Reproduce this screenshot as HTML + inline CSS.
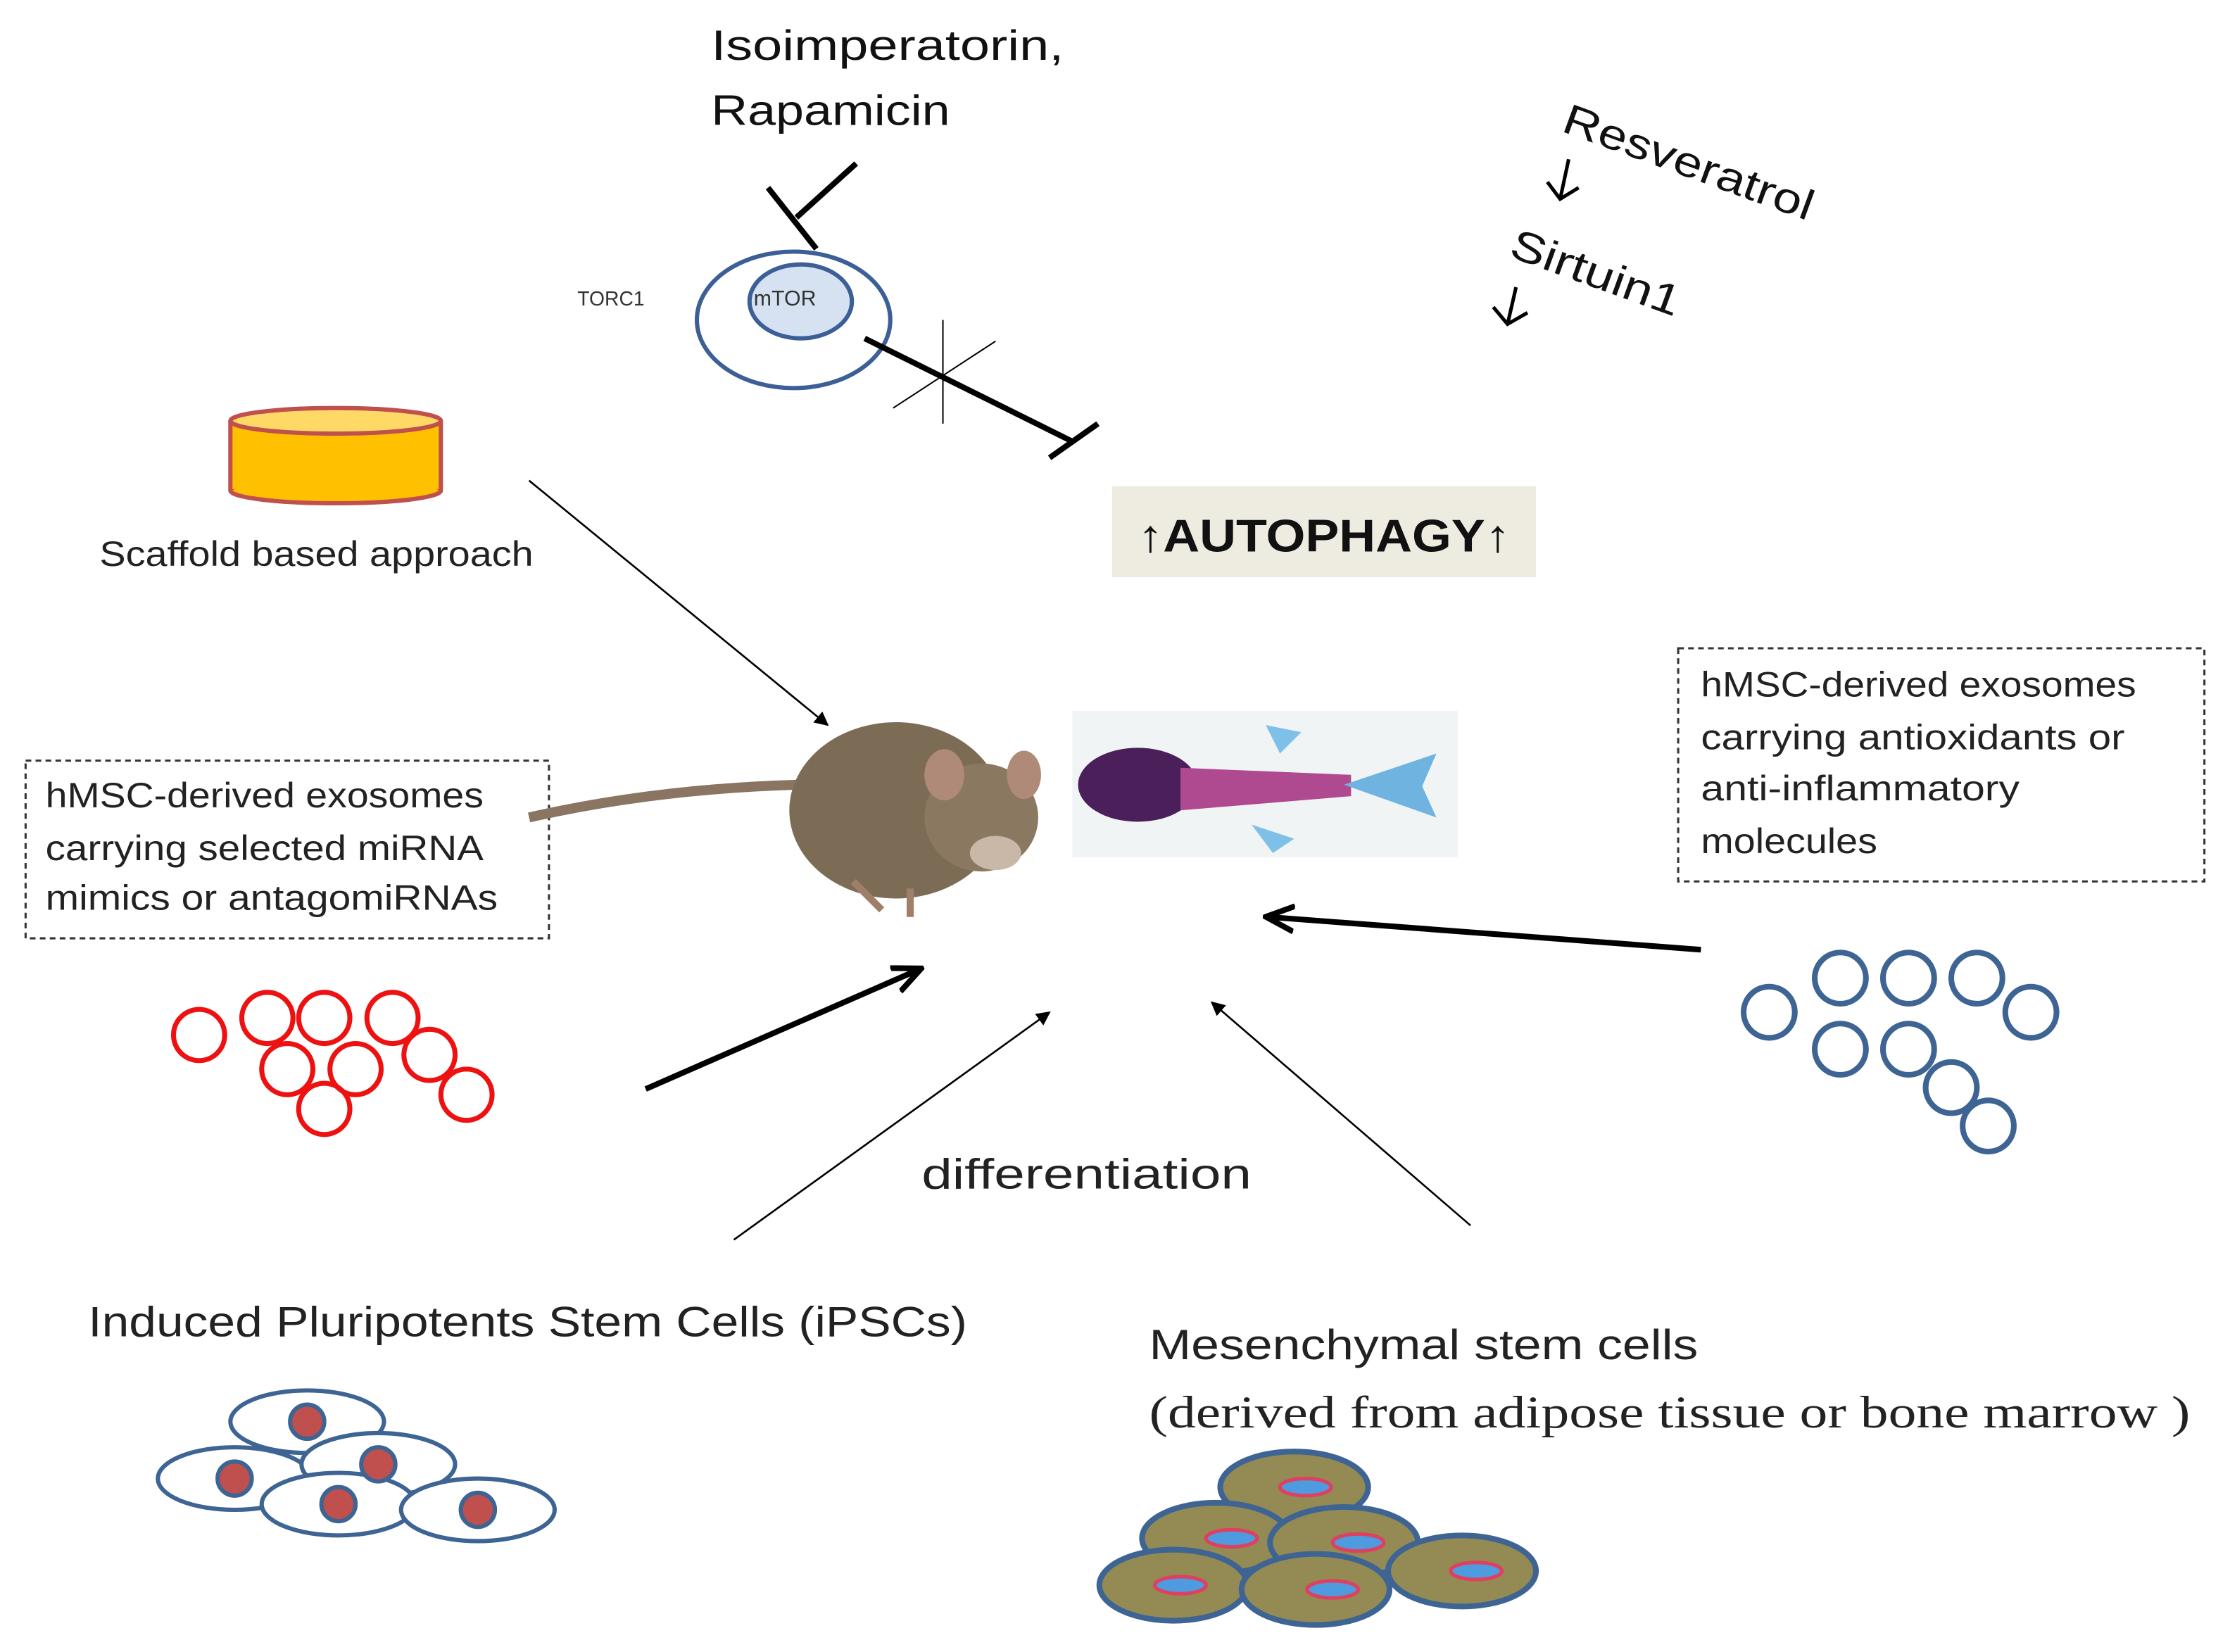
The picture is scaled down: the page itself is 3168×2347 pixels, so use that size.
<!DOCTYPE html>
<html><head><meta charset="utf-8"><style>html,body{margin:0;padding:0;background:#fff}svg{display:block}</style></head>
<body>
<svg width="3168" height="2347" viewBox="0 0 1568 1162" preserveAspectRatio="none" xmlns="http://www.w3.org/2000/svg" font-family="Liberation Sans, sans-serif">
<defs>
<marker id="a" markerWidth="10" markerHeight="10" refX="9" refY="5" orient="auto" markerUnits="userSpaceOnUse"><path d="M0,0 L10,5 L0,10 z" fill="#000"/></marker>
<marker id="b" markerWidth="22" markerHeight="22" refX="18" refY="11" orient="auto" markerUnits="userSpaceOnUse"><path d="M0,2 L20,11 L0,20" fill="none" stroke="#000" stroke-width="4"/></marker>
</defs>
<rect width="1568" height="1162" fill="#fff"/>
<text x="500" y="42" font-size="30" fill="#111" textLength="248" lengthAdjust="spacingAndGlyphs">Isoimperatorin,</text>
<text x="500" y="88" font-size="30" fill="#111" textLength="168" lengthAdjust="spacingAndGlyphs">Rapamicin</text>
<line x1="602" y1="115" x2="560" y2="153" stroke="#000" stroke-width="4"/>
<line x1="540" y1="132" x2="574" y2="175" stroke="#000" stroke-width="4"/>
<text x="406" y="215" font-size="14" fill="#333">TORC1</text>
<ellipse cx="558" cy="225" rx="68" ry="48" fill="none" stroke="#3b5f96" stroke-width="3"/>
<ellipse cx="563" cy="212" rx="36" ry="26" fill="#d6e2f2" stroke="#3b5f96" stroke-width="3"/>
<text x="530" y="215" font-size="15" fill="#333">mTOR</text>
<line x1="608" y1="238" x2="755" y2="311" stroke="#000" stroke-width="4"/>
<line x1="738" y1="322" x2="772" y2="298" stroke="#000" stroke-width="4"/>
<line x1="663" y1="225" x2="663" y2="298" stroke="#000" stroke-width="1"/>
<line x1="628" y1="287" x2="700" y2="240" stroke="#000" stroke-width="1"/>
<text x="1097" y="92" font-size="30" fill="#111" transform="rotate(20 1097 92)" textLength="185" lengthAdjust="spacingAndGlyphs">Resveratrol</text>
<path d="M1103,112 L1097,140 M1088,128 L1097,140 L1110,132" stroke="#000" stroke-width="2.5" fill="none"/>
<text x="1060" y="180" font-size="30" fill="#111" transform="rotate(20 1060 180)" textLength="125" lengthAdjust="spacingAndGlyphs">Sirtuin1</text>
<path d="M1066,202 L1060,228 M1050,216 L1060,228 L1074,220" stroke="#000" stroke-width="2.5" fill="none"/>
<rect x="162" y="296" width="148" height="49" fill="#ffc000"/>
<ellipse cx="236" cy="345" rx="74" ry="9" fill="#ffc000" stroke="#c0504d" stroke-width="3"/>
<rect x="163" y="296" width="146" height="48" fill="#ffc000"/>
<line x1="162" y1="296" x2="162" y2="345" stroke="#c0504d" stroke-width="3"/>
<line x1="310" y1="296" x2="310" y2="345" stroke="#c0504d" stroke-width="3"/>
<ellipse cx="236" cy="296" rx="74" ry="9" fill="#ffd966" stroke="#c0504d" stroke-width="3"/>
<text x="70" y="398" font-size="25" fill="#222" textLength="305" lengthAdjust="spacingAndGlyphs">Scaffold based approach</text>
<rect x="782" y="342" width="298" height="64" fill="#eeece1"/>
<text x="800" y="388" font-size="32" font-weight="bold" fill="#111" textLength="262" lengthAdjust="spacingAndGlyphs">↑AUTOPHAGY↑</text>
<line x1="372" y1="338" x2="582" y2="510" stroke="#000" stroke-width="1.3" marker-end="url(#a)"/>
<rect x="18" y="535" width="368" height="125" fill="none" stroke="#333" stroke-width="1.5" stroke-dasharray="4,3"/>
<text x="32" y="568" font-size="25" fill="#222" textLength="308" lengthAdjust="spacingAndGlyphs">hMSC-derived exosomes</text>
<text x="32" y="605" font-size="25" fill="#222" textLength="308" lengthAdjust="spacingAndGlyphs">carrying selected  miRNA</text>
<text x="32" y="640" font-size="25" fill="#222" textLength="318" lengthAdjust="spacingAndGlyphs">mimics  or antagomiRNAs</text>
<path d="M372,575 Q460,555 560,552" stroke="#8a7562" stroke-width="7" fill="none"/>
<ellipse cx="630" cy="570" rx="75" ry="62" fill="#7d6c55"/>
<ellipse cx="690" cy="575" rx="40" ry="38" fill="#8a7860"/>
<ellipse cx="664" cy="545" rx="14" ry="18" fill="#b08a78"/>
<ellipse cx="720" cy="545" rx="12" ry="17" fill="#b08a78"/>
<ellipse cx="700" cy="600" rx="18" ry="12" fill="#c9b7a8"/>
<path d="M600,620 L620,640 M640,625 L640,645" stroke="#a07f6a" stroke-width="5"/>
<rect x="754" y="500" width="271" height="103" fill="#f1f4f4"/>
<ellipse cx="800" cy="552" rx="42" ry="26" fill="#4a1f5a"/>
<path d="M830,540 L950,545 L950,560 L830,570 z" fill="#b04a90"/>
<path d="M945,552 L1010,530 L1000,553 L1010,575 z" fill="#6fb3e0"/>
<path d="M890,510 L915,515 L900,530 z M880,580 L910,590 L895,600 z" fill="#7ec0e8"/>
<rect x="1180" y="456" width="370" height="164" fill="none" stroke="#333" stroke-width="1.5" stroke-dasharray="4,3"/>
<text x="1196" y="490" font-size="25" fill="#222" textLength="306" lengthAdjust="spacingAndGlyphs">hMSC-derived exosomes</text>
<text x="1196" y="527" font-size="25" fill="#222" textLength="298" lengthAdjust="spacingAndGlyphs">carrying antioxidants  or</text>
<text x="1196" y="563" font-size="25" fill="#222" textLength="224" lengthAdjust="spacingAndGlyphs">anti-inflammatory</text>
<text x="1196" y="600" font-size="25" fill="#222" textLength="124" lengthAdjust="spacingAndGlyphs">molecules</text>
<line x1="1196" y1="668" x2="892" y2="645" stroke="#000" stroke-width="4" marker-end="url(#b)"/>
<line x1="454" y1="766" x2="646" y2="682" stroke="#000" stroke-width="4" marker-end="url(#b)"/>
<line x1="516" y1="872" x2="738" y2="712" stroke="#000" stroke-width="1.3" marker-end="url(#a)"/>
<line x1="1034" y1="862" x2="852" y2="705" stroke="#000" stroke-width="1.3" marker-end="url(#a)"/>
<g fill="none" stroke="#3e6494" stroke-width="4">
<circle cx="1244" cy="712" r="18"/><circle cx="1294" cy="688" r="18"/><circle cx="1342" cy="688" r="18"/><circle cx="1390" cy="688" r="18"/><circle cx="1428" cy="712" r="18"/><circle cx="1294" cy="738" r="18"/><circle cx="1342" cy="738" r="18"/><circle cx="1372" cy="765" r="18"/><circle cx="1398" cy="792" r="18"/>
</g>
<g fill="none" stroke="#ee1111" stroke-width="3.5">
<circle cx="140" cy="728" r="18"/><circle cx="188" cy="716" r="18"/><circle cx="228" cy="716" r="18"/><circle cx="276" cy="716" r="18"/><circle cx="202" cy="752" r="18"/><circle cx="250" cy="752" r="18"/><circle cx="302" cy="742" r="18"/><circle cx="328" cy="770" r="18"/><circle cx="228" cy="780" r="18"/>
</g>
<text x="648" y="836" font-size="30" fill="#222" textLength="232" lengthAdjust="spacingAndGlyphs">differentiation</text>
<text x="62" y="940" font-size="30" fill="#222" textLength="618" lengthAdjust="spacingAndGlyphs">Induced Pluripotents Stem Cells (iPSCs)</text>
<g stroke="#3e6494" stroke-width="3">
<ellipse cx="216" cy="1000" rx="54" ry="22" fill="#fff"/><ellipse cx="165" cy="1040" rx="54" ry="22" fill="#fff"/><ellipse cx="266" cy="1030" rx="54" ry="22" fill="#fff"/><ellipse cx="238" cy="1058" rx="54" ry="22" fill="#fff"/><ellipse cx="336" cy="1062" rx="54" ry="22" fill="#fff"/>
<g fill="#c0504d"><circle cx="216" cy="1000" r="12"/><circle cx="165" cy="1040" r="12"/><circle cx="266" cy="1030" r="12"/><circle cx="238" cy="1058" r="12"/><circle cx="336" cy="1062" r="12"/></g>
</g>
<text x="808" y="956" font-size="30" fill="#222" textLength="386" lengthAdjust="spacingAndGlyphs">Mesenchymal stem cells</text>
<text x="808" y="1004" font-size="32" fill="#222" font-family="Liberation Serif, serif" textLength="732" lengthAdjust="spacingAndGlyphs">(derived from adipose tissue or  bone marrow )</text>
<g stroke="#3e6494" stroke-width="4" fill="#948a54">
<ellipse cx="910" cy="1046" rx="52" ry="25"/><ellipse cx="855" cy="1082" rx="52" ry="25"/><ellipse cx="945" cy="1085" rx="52" ry="25"/><ellipse cx="825" cy="1115" rx="52" ry="25"/><ellipse cx="925" cy="1118" rx="52" ry="25"/><ellipse cx="1028" cy="1105" rx="52" ry="25"/>
</g>
<g fill="#4f9be0" stroke="#e04060" stroke-width="2.5">
<ellipse cx="918" cy="1046" rx="18" ry="6"/><ellipse cx="866" cy="1082" rx="18" ry="6"/><ellipse cx="955" cy="1085" rx="18" ry="6"/><ellipse cx="830" cy="1115" rx="18" ry="6"/><ellipse cx="937" cy="1118" rx="18" ry="6"/><ellipse cx="1038" cy="1105" rx="18" ry="6"/>
</g>
</svg>
</body></html>
